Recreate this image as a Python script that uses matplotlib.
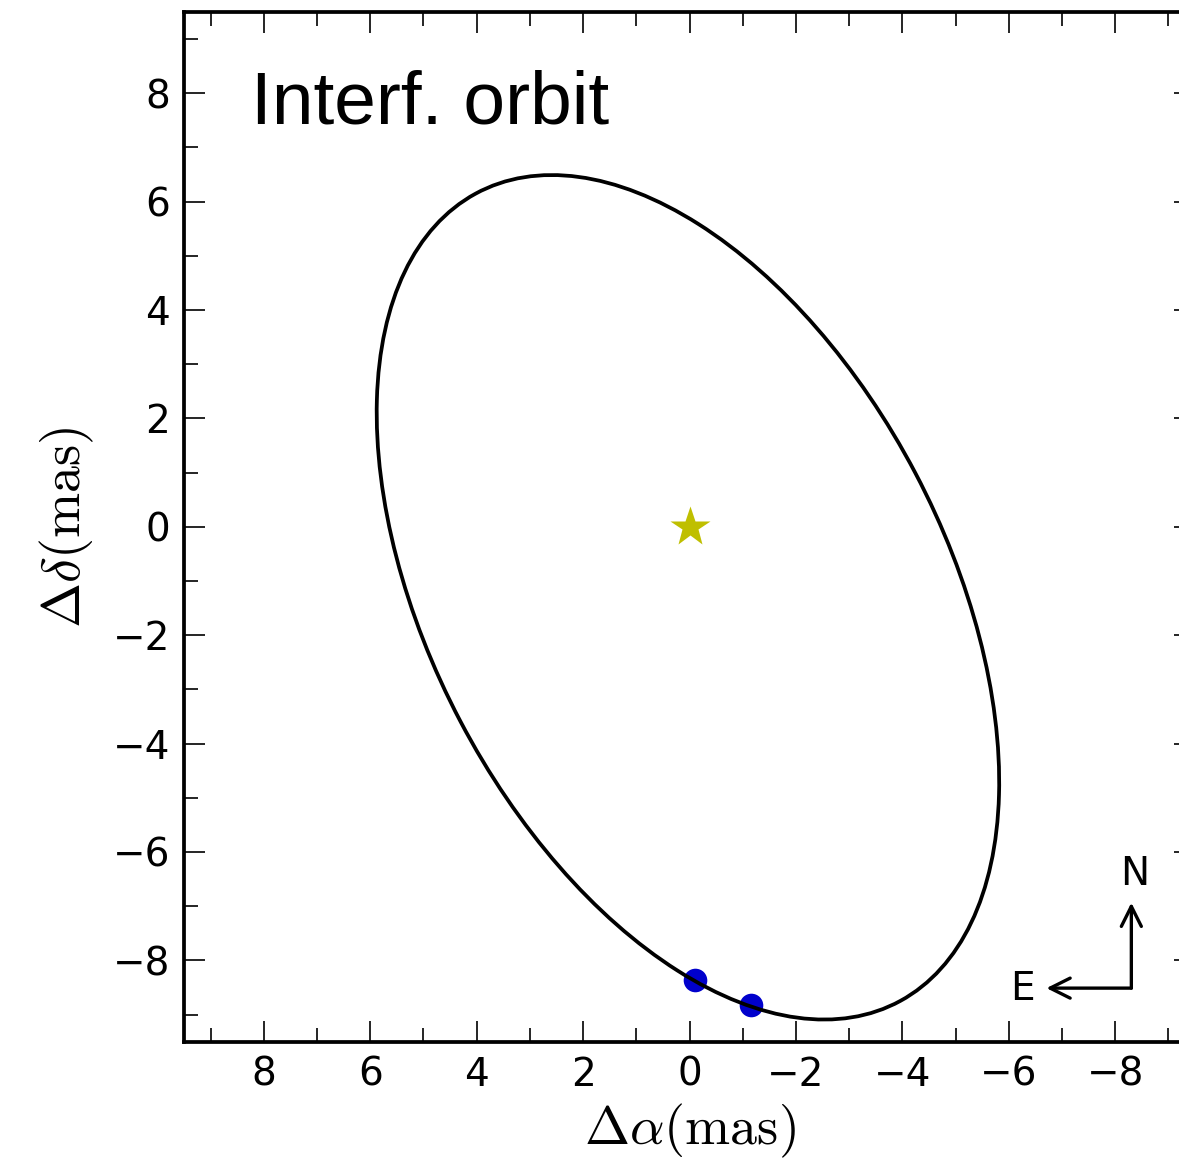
import matplotlib
matplotlib.use("Agg")
import matplotlib.pyplot as plt
from matplotlib.patches import Ellipse
from matplotlib.ticker import MultipleLocator

plt.rcParams["mathtext.fontset"] = "cm"

# fitted relative orbit (mas)
orbit_center = (0.03, -1.30)
orbit_major = 8.45   # semi-major axis
orbit_minor = 4.85   # semi-minor axis
orbit_angle = 61.8   # deg, measured in (dRA, dDec) frame

# interferometric epochs
obs_ra = [-0.11, -1.16]
obs_dec = [-8.36, -8.83]

# primary
star_ra = [0.0]
star_dec = [0.0]

fig = plt.figure(figsize=(5.895, 5.835), dpi=200)
ax = fig.add_axes([0.1561, 0.1074, 0.8575, 0.8823])

ax.plot(obs_ra, obs_dec, "o", color="#0000cc", ms=8.5, mec="none", zorder=2)
ax.plot(star_ra, star_dec, "*", color="y", ms=15, mec="none", zorder=2)

orbit = Ellipse(orbit_center, 2 * orbit_major, 2 * orbit_minor, angle=orbit_angle,
                fill=False, ec="black", lw=1.35, zorder=3)
ax.add_patch(orbit)

ax.set_xlim(9.5, -9.5)
ax.set_ylim(-9.5, 9.5)

ax.xaxis.set_major_locator(MultipleLocator(2))
ax.xaxis.set_minor_locator(MultipleLocator(1))
ax.yaxis.set_major_locator(MultipleLocator(2))
ax.yaxis.set_minor_locator(MultipleLocator(1))
ax.tick_params(which="both", direction="in", top=True, right=True, labelsize=14)
ax.tick_params(which="major", length=7.5, width=0.6, pad=5)
ax.tick_params(which="minor", length=5, width=0.6)
for sp in ax.spines.values():
    sp.set_linewidth(1.35)

ax.set_xlabel(r"$\Delta\alpha(\mathrm{mas})$", fontsize=19.5, labelpad=3)
ax.set_ylabel(r"$\Delta\delta(\mathrm{mas})$", fontsize=19.5, labelpad=6)

ax.text(0.066, 0.892, "Interf. orbit", transform=ax.transAxes,
        fontsize=27, family="Liberation Sans", ha="left", va="baseline")

# compass
corner = (0.937, 0.052)
arrow_kw = dict(arrowstyle="->", lw=1.2, color="black", mutation_scale=18,
                shrinkA=0, shrinkB=0)
ax.annotate("", xy=(0.937, 0.135), xytext=corner, xycoords="axes fraction",
            textcoords="axes fraction", arrowprops=arrow_kw)
ax.annotate("", xy=(0.853, 0.052), xytext=corner, xycoords="axes fraction",
            textcoords="axes fraction", arrowprops=arrow_kw)
ax.text(0.940, 0.163, "N", transform=ax.transAxes, fontsize=14,
        ha="center", va="center")
ax.text(0.829, 0.051, "E", transform=ax.transAxes, fontsize=14,
        ha="center", va="center")

fig.savefig("out.png", dpi=200)
